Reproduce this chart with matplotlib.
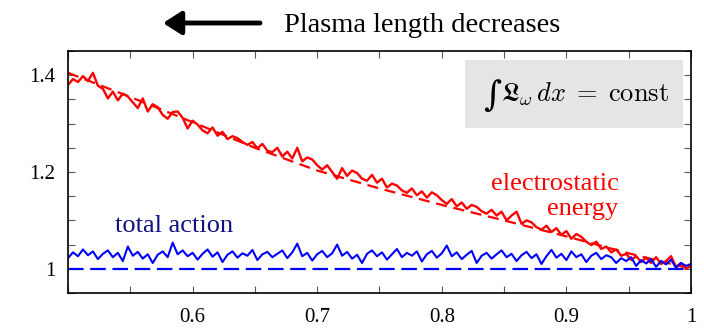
import numpy as np
import matplotlib
matplotlib.use("Agg")
import matplotlib.pyplot as plt
from matplotlib.ticker import MultipleLocator

plt.rcParams['font.family'] = ['Liberation Serif', 'DejaVu Serif']
plt.rcParams['mathtext.fontset'] = 'cm'

# sample positions (plasma length, normalised)
x = np.linspace(0.5, 1.0, 126)

# electrostatic energy (noisy simulation)
energy = [1.380, 1.392, 1.386, 1.398, 1.388, 1.405, 1.378, 1.372, 1.352, 1.366,
          1.348, 1.362, 1.356, 1.344, 1.332, 1.352, 1.325, 1.340, 1.334, 1.318,
          1.310, 1.324, 1.325, 1.312, 1.290, 1.306, 1.298, 1.286, 1.280, 1.292,
          1.275, 1.283, 1.268, 1.274, 1.270, 1.262, 1.256, 1.262, 1.249, 1.258,
          1.244, 1.241, 1.250, 1.232, 1.242, 1.228, 1.250, 1.222, 1.230, 1.226,
          1.214, 1.205, 1.214, 1.200, 1.186, 1.208, 1.192, 1.203, 1.198, 1.186,
          1.182, 1.194, 1.178, 1.186, 1.168, 1.176, 1.172, 1.162, 1.157, 1.166,
          1.152, 1.160, 1.147, 1.158, 1.152, 1.142, 1.134, 1.144, 1.129, 1.137,
          1.124, 1.132, 1.128, 1.119, 1.114, 1.122, 1.110, 1.118, 1.100, 1.110,
          1.118, 1.093, 1.100, 1.096, 1.086, 1.081, 1.089, 1.076, 1.084, 1.070,
          1.078, 1.062, 1.072, 1.066, 1.056, 1.049, 1.056, 1.041, 1.046, 1.034,
          1.040, 1.027, 1.031, 1.018, 1.026, 1.014, 1.023, 1.012, 1.024, 1.010,
          1.016, 1.026, 1.004, 1.012, 1.000, 1.006]

# total action (noisy simulation)
action = [1.022, 1.034, 1.026, 1.040, 1.028, 1.036, 1.020, 1.031, 1.038, 1.024,
          1.033, 1.016, 1.046, 1.027, 1.035, 1.021, 1.030, 1.012, 1.029, 1.036,
          1.024, 1.054, 1.030, 1.038, 1.026, 1.033, 1.019, 1.031, 1.040, 1.025,
          1.034, 1.014, 1.029, 1.036, 1.023, 1.032, 1.027, 1.039, 1.018, 1.030,
          1.035, 1.024, 1.031, 1.038, 1.022, 1.034, 1.052, 1.026, 1.033, 1.017,
          1.030, 1.037, 1.024, 1.032, 1.050, 1.027, 1.035, 1.021, 1.029, 1.012,
          1.031, 1.038, 1.026, 1.034, 1.019, 1.030, 1.041, 1.024, 1.033, 1.027,
          1.036, 1.015, 1.030, 1.037, 1.023, 1.032, 1.048, 1.026, 1.034, 1.020,
          1.029, 1.037, 1.012, 1.027, 1.033, 1.021, 1.030, 1.038, 1.024, 1.031,
          1.016, 1.028, 1.035, 1.022, 1.030, 1.010, 1.026, 1.039, 1.023, 1.031,
          1.018, 1.036, 1.024, 1.030, 1.014, 1.027, 1.033, 1.020, 1.028, 1.024,
          1.012, 1.022, 1.016, 1.024, 1.006, 1.018, 1.011, 1.020, 1.004, 1.016,
          1.009, 1.019, 1.002, 1.012, 1.006, 1.010]

# theory curves (dashed)
x_theory = [0.5, 0.55, 0.6, 0.65, 0.7, 0.75, 0.8, 0.85, 0.9, 0.95, 1.0]
energy_theory = [1.405, 1.355, 1.303, 1.250, 1.203, 1.166, 1.132, 1.100, 1.067, 1.032, 1.000]
action_x = [0.5, 1.0]
action_theory = [1.0, 1.0]

fig = plt.figure(figsize=(7.04, 3.28), dpi=100)
ax = fig.add_axes([0.0966, 0.1067, 0.8849, 0.7378])

ax.plot(x_theory, energy_theory, color="r", lw=1.6, dashes=(5, 3))
ax.plot(x, energy, color="r", lw=1.7)
ax.plot(action_x, action_theory, color="b", lw=1.6, dashes=(7, 3))
ax.plot(x, action, color="b", lw=1.5)

ax.set_xlim(0.5, 1.0)
ax.set_ylim(0.95, 1.45)
ax.xaxis.set_major_locator(MultipleLocator(0.1))
ax.xaxis.set_minor_locator(MultipleLocator(0.05))
ax.yaxis.set_major_locator(MultipleLocator(0.2))
ax.yaxis.set_minor_locator(MultipleLocator(0.05))
ax.xaxis.set_major_formatter(matplotlib.ticker.FuncFormatter(
    lambda v, p: "1" if abs(v - 1) < 1e-9 else ("" if v < 0.55 else "%.1f" % v)))
ax.yaxis.set_major_formatter(matplotlib.ticker.FuncFormatter(
    lambda v, p: "1" if abs(v - 1) < 1e-9 else "%.1f" % v))
ax.tick_params(which="both", direction="in", top=True, right=True,
               length=5, width=0.8, color="0.35", labelsize=15)
ax.tick_params(axis="x", pad=11)
ax.tick_params(axis="y", pad=9)
for s in ax.spines.values():
    s.set_linewidth(1.2)

# labels
ax.text(0.5377, 1.076, "total action", color="#101080", fontsize=19)
ax.text(0.942, 1.163, "electrostatic", color="r", fontsize=19, ha="right")
ax.text(0.942, 1.111, "energy", color="r", fontsize=19, ha="right")

# formula box
ax.add_patch(plt.Rectangle((0.637, 0.682), 0.35, 0.281, transform=ax.transAxes,
                           facecolor="#e5e5e5", edgecolor="none", zorder=3))
ax.text(0.667, 0.815, "\u222b", family="DejaVu Serif", fontsize=25,
        transform=ax.transAxes, ha="left", va="center", zorder=4)
ax.text(0.695, 0.822, r"$\mathfrak{L}_\omega\, dx \;=\; \mathrm{const}$",
        transform=ax.transAxes, ha="left", va="center", fontsize=19, zorder=4)

# header arrow and text
fig.text(0.403, 1 - 32 / 328, "Plasma length decreases", fontsize=20.5,
         ha="left", va="baseline")
ax.annotate("", xy=(163 / 704, 1 - 23 / 328), xytext=(260 / 704, 1 - 23 / 328),
            xycoords="figure fraction", textcoords="figure fraction",
            arrowprops=dict(arrowstyle="-|>,head_length=1.1,head_width=0.7",
                            lw=3.5, color="k", shrinkA=0, shrinkB=0))

plt.savefig("out.png", dpi=100)
